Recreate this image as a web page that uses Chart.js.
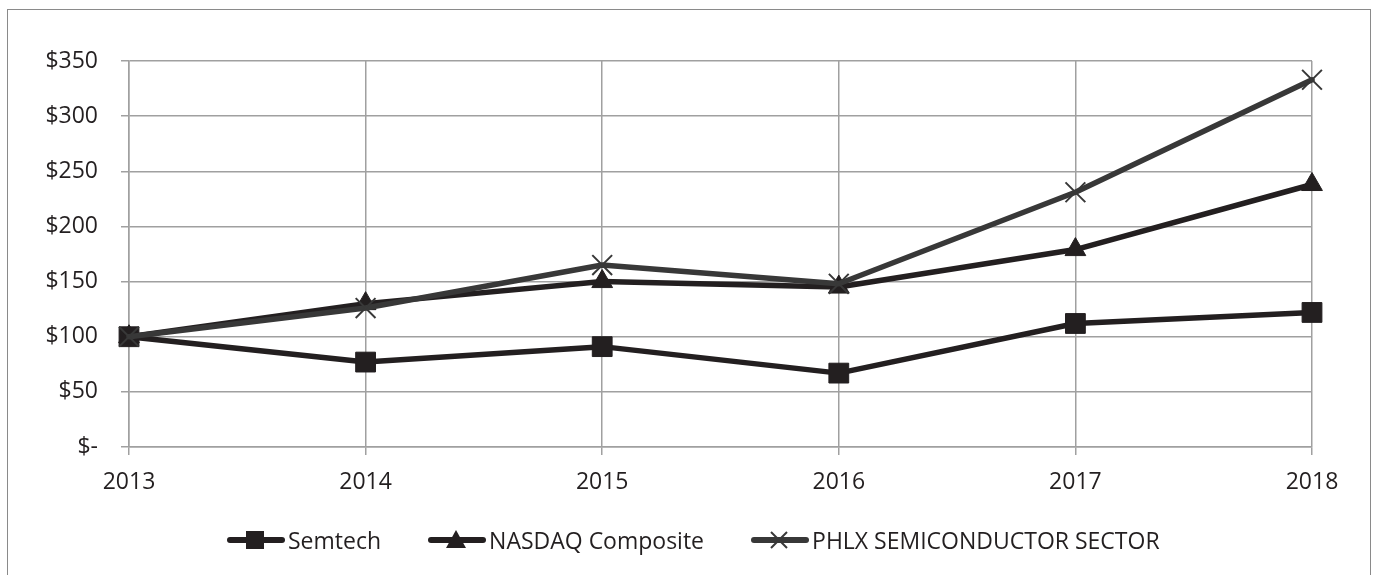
<!DOCTYPE html>
<html>
<head>
<meta charset="utf-8">
<script src="https://cdn.jsdelivr.net/npm/chart.js@4.4.1/dist/chart.umd.min.js"></script>
<style>
  html, body { margin: 0; padding: 0; background: #fff; }
  body { width: 1377px; height: 575px; overflow: hidden; position: relative; font-family: 'Open Sans', sans-serif; }
  #frame { position: absolute; left: 7px; top: 9px; width: 1364px; height: 620px; border: 1.5px solid #8a8a8a; box-sizing: border-box; }
  #wrap { position: absolute; left: 0; top: 0; width: 1377px; height: 575px; }
  #legend { position: absolute; left: 226px; top: 526px; height: 28px; display: flex; align-items: center; font-size: 23px; color: #231f20; }
  .item { display: flex; align-items: center; margin-right: 46px; }
  .item svg { margin-right: 2px; }
</style>
</head>
<body>
<div id="frame"></div>
<div id="wrap"><canvas id="lineChart"></canvas></div>
<div id="legend"></div>
<script>
const years = ['2013', '2014', '2015', '2016', '2017', '2018'];
const semtech = [100, 77, 91, 67, 112, 122];
const nasdaq = [100, 130, 150, 145, 179, 238];
const phlx = [100, 126, 165, 148, 231, 333];
const seriesNames = ['Semtech', 'NASDAQ Composite', 'PHLX SEMICONDUCTOR SECTOR'];

const dark = '#231f20';
const darkGray = '#383838';
const gridGray = '#a0a0a0';

Chart.defaults.font.family = "'Open Sans', sans-serif";
Chart.defaults.color = dark;

const ctx = document.getElementById('lineChart');
new Chart(ctx, {
  type: 'line',
  data: {
    labels: years,
    datasets: [
      {
        label: seriesNames[0],
        data: semtech,
        borderColor: dark,
        backgroundColor: dark,
        borderWidth: 5.5,
        pointStyle: 'rect',
        pointRadius: 14,
        pointBackgroundColor: dark,
        pointBorderColor: dark,
        pointBorderWidth: 1,
        order: 3
      },
      {
        label: seriesNames[1],
        data: nasdaq,
        borderColor: dark,
        backgroundColor: dark,
        borderWidth: 5.5,
        pointStyle: 'triangle',
        pointRadius: 12,
        pointBackgroundColor: dark,
        pointBorderColor: dark,
        pointBorderWidth: 1,
        order: 2
      },
      {
        label: seriesNames[2],
        data: phlx,
        borderColor: darkGray,
        backgroundColor: darkGray,
        borderWidth: 5.5,
        pointStyle: 'crossRot',
        pointRadius: 14,
        pointBorderColor: darkGray,
        pointBorderWidth: 2,
        order: 1
      }
    ]
  },
  options: {
    responsive: true,
    maintainAspectRatio: false,
    animation: false,
    clip: false,
    elements: { line: { tension: 0, borderCapStyle: 'round', borderJoinStyle: 'round' } },
    layout: { padding: { top: 61, right: 65, bottom: 80, left: 0 } },
    plugins: {
      legend: { display: false },
      tooltip: { enabled: false }
    },
    scales: {
      x: {
        offset: false,
        grid: { color: gridGray, lineWidth: 1.5, tickLength: 8, drawTicks: true },
        border: { color: gridGray, width: 1.5 },
        ticks: { font: { size: 23 }, color: dark, padding: 14, maxRotation: 0 },
        afterFit: function (s) { s.height = 48; }
      },
      y: {
        min: 0,
        max: 350,
        grid: { color: gridGray, lineWidth: 1.5, tickLength: 8, drawTicks: true },
        border: { color: gridGray, width: 1.5 },
        ticks: {
          stepSize: 50,
          font: { size: 23 },
          color: dark,
          padding: 23,
          callback: function (v) { return v === 0 ? '$-' : '$' + v; }
        },
        afterFit: function (s) { s.width = 129; }
      }
    }
  }
});

// legend: line with marker, then the series name
const markers = [
  '<rect x="20" y="5" width="18" height="18" fill="' + dark + '"/>',
  '<polygon points="29,4 39,22 19,22" fill="' + dark + '"/>',
  '<path d="M21 6 L37 22 M37 6 L21 22" stroke="' + darkGray + '" stroke-width="2"/>'
];
const lineColors = [dark, dark, darkGray];
const legend = document.getElementById('legend');
seriesNames.forEach(function (name, i) {
  const item = document.createElement('div');
  item.className = 'item';
  item.innerHTML =
    '<svg width="60" height="28"><line x1="4" y1="14" x2="56" y2="14" stroke="' + lineColors[i] +
    '" stroke-width="6" stroke-linecap="round"/>' + markers[i] + '</svg><span>' + name + '</span>';
  legend.appendChild(item);
});
</script>
</body>
</html>
